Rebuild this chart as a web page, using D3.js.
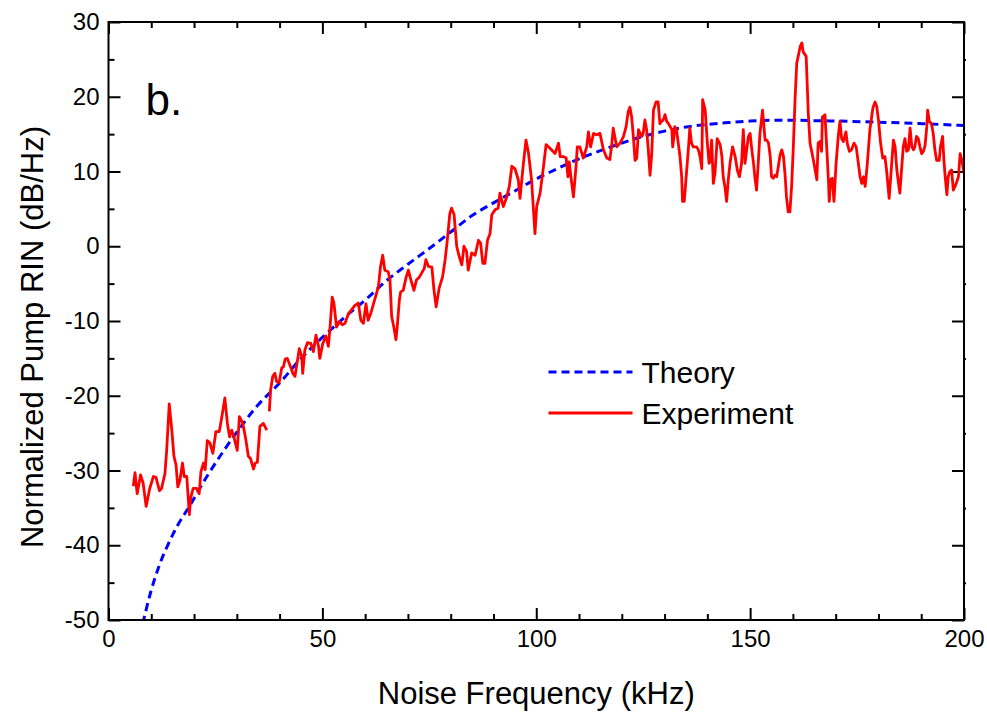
<!DOCTYPE html>
<html lang="en">
<head>
<meta charset="UTF-8"/>
<title>Pump RIN</title>
<script src="https://d3js.org/d3.v7.min.js"></script>
<style>
  body { margin: 0; background: #fff; }
  text { font-family: "Liberation Sans", Arial, sans-serif; fill: #000; }
  .axis path { display: none; }
  .axis line { stroke: #000; stroke-width: 2px; }
  .axis text { font-size: 24px; }
</style>
</head>
<body>
<div id="chart"></div>
<script>
// theory curve
var theoryFreq = [8, 10, 12, 14, 16, 19, 23, 27, 31, 35, 40, 45, 50, 55, 60, 65, 70, 75, 80, 85,
  90, 95, 100, 105, 110, 115, 120, 125, 130, 135, 140, 145, 150, 155, 160, 165, 170, 180, 190, 200]
var theoryRin = [-50.5, -46.0, -42.5, -39.8, -37.5, -34.7, -30.8, -27.3, -24.1, -21.2, -18.3, -15.0, -12.2, -9.6, -7.2, -4.6, -2.4, -0.3, 1.9, 4.1,
  5.8, 7.4, 9.0, 10.4, 11.7, 12.8, 13.8, 14.7, 15.4, 15.95, 16.3, 16.55, 16.75, 16.85, 16.85, 16.8, 16.75, 16.6, 16.4, 16.15]

// experiment, first sweep (5 - 37 kHz)
var sweep1Freq = [5.8, 6.2, 6.7, 7.5, 8.1, 8.8, 9.6, 10.5, 11.1, 11.9,
  12.4, 13.2, 13.6, 14.2, 14.8, 15.3, 15.8, 16.2, 16.7, 17.3,
  17.7, 18.3, 18.9, 19.2, 19.8, 20.6, 21.2, 21.6, 22.2, 22.6,
  23.1, 23.7, 24.4, 25.1, 25.9, 26.5, 27.2, 27.8, 28.3, 28.8,
  29.3, 30.1, 30.6, 31.4, 32.0, 32.7, 33.2, 33.9, 34.3, 34.8,
  35.4, 36.2, 37.0]
var sweep1Rin = [-32.1, -30.3, -33.1, -30.6, -31.7, -34.8, -32.5, -30.8, -30.9, -32.7,
  -32.4, -30.4, -27.3, -21.1, -24.6, -28.1, -29.3, -32.2, -31.3, -29.0,
  -30.8, -30.8, -35.9, -33.7, -32.4, -32.4, -33.1, -30.2, -29.0, -29.9,
  -26.0, -26.3, -27.7, -24.8, -24.8, -22.8, -20.3, -23.7, -25.5, -24.6,
  -25.5, -27.3, -22.8, -23.7, -25.5, -28.1, -28.4, -29.8, -29.0, -28.9,
  -24.1, -23.7, -24.6]

// experiment, second sweep (37 - 200 kHz)
var sweep2Freq = [37.6, 37.9, 38.4, 38.9, 39.3, 39.9, 40.5, 40.9, 41.3, 41.8,
  42.4, 43.1, 43.6, 44.2, 44.6, 45.2, 45.4, 45.9, 46.5, 47.3,
  47.9, 48.5, 49.1, 49.4, 50.1, 50.8, 51.4, 51.8, 52.3, 52.7,
  53.3, 54.0, 54.7, 55.3, 56.1, 56.8, 57.6, 58.4, 59.0, 59.6,
  60.2, 60.7, 61.3, 62.3, 63.1, 63.6, 64.1, 64.6, 65.4, 65.8,
  66.2, 66.7, 67.2, 67.5, 68.0, 68.3, 68.9, 69.6, 70.1, 70.7,
  71.4, 72.0, 72.7, 73.2, 73.8, 74.2, 74.8, 75.6, 76.1, 76.6,
  77.3, 78.1, 78.7, 79.2, 79.8, 80.2, 80.8, 81.4, 82.0, 82.6,
  83.1, 83.7, 84.1, 84.9, 85.7, 86.5, 87.0, 87.5, 88.0, 88.6,
  89.2, 89.6, 90.4, 91.1, 91.5, 92.3, 93.1, 93.7, 94.3, 95.0,
  95.8, 96.2, 97.0, 97.6, 98.2, 98.9, 99.7, 100.1, 100.9, 101.7,
  102.3, 103.2, 104.4, 105.2, 105.6, 106.3, 107.0, 107.4, 107.7, 108.1,
  108.7, 109.3, 109.6, 110.2, 111.0, 111.8, 112.2, 112.7, 113.4, 114.1,
  114.9, 115.7, 116.5, 117.2, 117.6, 118.0, 118.8, 119.6, 120.4, 121.0,
  121.5, 121.9, 122.3, 122.7, 123.1, 123.5, 123.9, 124.3, 124.7, 125.0,
  125.4, 125.8, 126.2, 126.6, 127.0, 127.4, 128.0, 128.5, 128.9, 129.3,
  129.7, 130.1, 130.5, 130.9, 131.3, 131.7, 131.9, 132.2, 132.4, 132.8,
  133.2, 133.6, 134.0, 134.2, 134.6, 135.0, 135.6, 135.9, 136.3, 136.7,
  137.5, 137.9, 138.3, 138.7, 138.9, 139.5, 140.0, 140.4, 140.6, 141.0,
  141.4, 141.8, 142.3, 143.0, 143.4, 143.7, 144.1, 144.5, 144.9, 145.3,
  145.9, 146.5, 147.0, 147.5, 148.0, 148.4, 148.8, 149.2, 149.6, 150.0,
  150.4, 150.8, 151.1, 151.5, 151.9, 152.3, 152.9, 153.5, 153.9, 154.3,
  154.7, 155.0, 155.4, 155.8, 156.2, 156.6, 157.0, 157.4, 157.8, 158.2,
  158.5, 158.9, 159.3, 159.7, 160.1, 160.5, 160.9, 161.7, 162.1, 162.4,
  163.1, 163.6, 164.0, 164.8, 165.6, 165.9, 166.3, 166.7, 166.9, 167.5,
  167.9, 168.3, 168.5, 168.8, 169.2, 169.6, 170.1, 170.6, 171.0, 171.4,
  171.8, 172.4, 172.7, 173.2, 173.7, 174.3, 174.8, 175.3, 175.7, 176.1,
  176.5, 176.9, 177.4, 178.0, 178.7, 179.2, 179.6, 180.0, 180.5, 181.0,
  181.5, 181.9, 182.5, 183.1, 183.5, 183.9, 184.3, 184.7, 185.0, 185.4,
  185.8, 186.2, 186.6, 187.0, 187.4, 187.8, 188.2, 188.5, 188.9, 189.3,
  189.7, 190.1, 190.5, 190.9, 191.3, 191.5, 191.9, 192.4, 192.8, 193.2,
  193.6, 194.2, 194.5, 195.0, 195.3, 195.6, 196.0, 196.3, 196.7, 197.1,
  197.5, 197.9, 198.3, 198.7, 199.1, 199.5, 200.0]
var sweep2Rin = [-22.1, -19.2, -17.4, -17.0, -18.1, -18.2, -16.3, -16.1, -15.1, -15.0,
  -15.9, -17.0, -17.4, -15.2, -13.7, -14.8, -17.0, -13.9, -12.9, -13.0,
  -14.1, -11.9, -13.4, -15.0, -13.0, -12.0, -13.4, -10.8, -6.8, -7.6,
  -10.8, -10.1, -10.5, -10.3, -9.0, -8.5, -7.9, -7.6, -9.9, -10.3,
  -7.7, -9.9, -9.0, -7.0, -5.4, -2.7, -1.2, -3.2, -3.4, -4.5,
  -9.4, -10.8, -12.5, -10.8, -7.2, -6.1, -5.9, -4.1, -3.2, -4.5,
  -5.9, -4.5, -4.1, -3.6, -3.0, -1.8, -2.7, -2.8, -5.9, -8.1,
  -5.6, -4.1, -1.8, 0.8, 4.4, 5.1, 4.2, 0.0, -1.4, -2.5,
  0.0, -0.7, -3.2, -0.9, -1.2, 0.8, 0.4, -2.3, -2.3, 0.8,
  1.7, 4.2, 4.9, 5.1, 7.1, 5.3, 6.6, 8.0, 10.7, 10.4,
  8.9, 6.4, 11.1, 14.2, 12.4, 8.9, 1.7, 5.3, 7.1, 10.7,
  13.6, 13.1, 12.4, 13.8, 12.0, 12.0, 11.8, 9.3, 11.3, 9.3,
  6.6, 10.7, 13.3, 13.3, 11.8, 13.3, 15.3, 13.3, 15.1, 14.9,
  15.1, 12.9, 11.8, 11.6, 13.3, 15.8, 13.3, 13.8, 14.7, 16.0,
  18.0, 18.6, 17.3, 14.7, 11.5, 11.8, 15.6, 15.1, 14.7, 15.1,
  16.9, 15.6, 12.9, 9.5, 12.4, 18.2, 19.3, 19.3, 16.4, 16.7,
  16.9, 17.6, 16.7, 16.4, 16.0, 15.6, 13.3, 14.7, 16.0, 15.6,
  13.8, 12.0, 9.3, 6.0, 6.0, 8.9, 13.3, 15.8, 13.8, 13.3,
  13.3, 12.9, 12.0, 10.4, 19.6, 18.2, 13.8, 11.1, 11.3, 14.2,
  8.4, 9.8, 14.4, 13.6, 12.0, 9.3, 8.0, 6.0, 8.9, 11.1,
  13.3, 12.0, 10.2, 9.3, 11.1, 15.6, 11.1, 12.9, 14.7, 15.1,
  12.9, 11.1, 9.3, 7.5, 11.1, 15.1, 18.2, 14.2, 14.2, 13.8,
  12.0, 9.3, 9.1, 9.5, 9.3, 10.7, 12.2, 12.9, 12.0, 9.3,
  6.6, 4.6, 4.6, 8.0, 13.3, 19.6, 24.5, 26.7, 27.2, 26.0,
  25.4, 17.8, 13.8, 11.5, 8.9, 13.8, 14.0, 12.7, 17.3, 17.6,
  13.3, 8.9, 6.0, 8.9, 9.1, 6.0, 11.1, 14.7, 16.7, 14.4,
  14.0, 15.3, 13.8, 12.7, 12.9, 13.8, 13.3, 11.1, 9.3, 8.4,
  9.3, 8.0, 11.1, 15.6, 18.5, 19.3, 18.7, 16.9, 13.8, 11.8,
  12.0, 10.2, 6.4, 11.1, 14.2, 13.3, 10.2, 8.4, 7.1, 10.2,
  13.3, 14.4, 12.7, 12.9, 15.8, 13.3, 12.9, 13.3, 14.7, 14.4,
  13.3, 12.4, 12.7, 13.5, 16.0, 18.2, 16.7, 16.4, 15.1, 12.9,
  11.5, 11.5, 13.3, 14.7, 11.5, 9.3, 6.9, 9.3, 10.0, 10.2,
  7.5, 8.0, 8.6, 9.3, 12.4, 11.5, 9.8]

var xMajor = [0, 50, 100, 150, 200]
var yMajor = [-50, -40, -30, -20, -10, 0, 10, 20, 30]
var legendNames = ["Theory", "Experiment"]

// size of the drawing
var W = 987, H = 715
var margin = {top: 22, right: 23, bottom: 95, left: 108.5}
var width = W - margin.left - margin.right
var height = H - margin.top - margin.bottom

var svg = d3.select("#chart").append("svg")
    .attr("width", W)
    .attr("height", H)

var g = svg.append("g")
    .attr("transform", "translate(" + margin.left + "," + margin.top + ")")

var x = d3.scaleLinear().domain([0, 200]).range([0, width])
var y = d3.scaleLinear().domain([-50, 30]).range([height, 0])

var xMinor = d3.range(10, 200, 10).filter(function(v) { return v % 50 != 0 })
var yMinor = d3.range(-45, 30, 10)

// plain hyphen for negative labels, like the original
var plain = function(d) { return String(d) }

// ticks point into the plot on all four sides
g.append("g").attr("class", "axis").attr("transform", "translate(0," + height + ")")
  .call(d3.axisBottom(x).tickValues(xMajor).tickFormat(plain).tickSizeInner(-12).tickSizeOuter(0).tickPadding(10))
g.append("g").attr("class", "axis").attr("transform", "translate(0," + height + ")")
  .call(d3.axisBottom(x).tickValues(xMinor).tickSize(-6).tickFormat(""))
g.append("g").attr("class", "axis")
  .call(d3.axisTop(x).tickValues(xMajor).tickSize(-12).tickFormat(""))
g.append("g").attr("class", "axis")
  .call(d3.axisTop(x).tickValues(xMinor).tickSize(-6).tickFormat(""))
g.append("g").attr("class", "axis")
  .call(d3.axisLeft(y).tickValues(yMajor).tickFormat(plain).tickSizeInner(-12).tickSizeOuter(0).tickPadding(9))
g.append("g").attr("class", "axis")
  .call(d3.axisLeft(y).tickValues(yMinor).tickSize(-6).tickFormat(""))
g.append("g").attr("class", "axis").attr("transform", "translate(" + width + ",0)")
  .call(d3.axisRight(y).tickValues(yMajor).tickSize(-12).tickFormat(""))
g.append("g").attr("class", "axis").attr("transform", "translate(" + width + ",0)")
  .call(d3.axisRight(y).tickValues(yMinor).tickSize(2).tickFormat(""))

// clip the curves to the frame
svg.append("defs").append("clipPath").attr("id", "plotclip")
  .append("rect").attr("width", width).attr("height", height)

var plot = g.append("g").attr("clip-path", "url(#plotclip)")

var line = d3.line()
    .x(function(d) { return x(d[0]) })
    .y(function(d) { return y(d[1]) })

plot.append("path")
    .datum(d3.zip(theoryFreq, theoryRin))
    .attr("fill", "none")
    .attr("stroke", "#0000ff")
    .attr("stroke-width", 3)
    .attr("stroke-dasharray", "8,5")
    .attr("d", line.curve(d3.curveMonotoneX))

line.curve(d3.curveLinear)

plot.append("path")
    .datum(d3.zip(sweep1Freq, sweep1Rin))
    .attr("fill", "none")
    .attr("stroke", "#ff0000")
    .attr("stroke-width", 2.8)
    .attr("stroke-linejoin", "round")
    .attr("d", line)

plot.append("path")
    .datum(d3.zip(sweep2Freq, sweep2Rin))
    .attr("fill", "none")
    .attr("stroke", "#ff0000")
    .attr("stroke-width", 2.8)
    .attr("stroke-linejoin", "round")
    .attr("d", line)

// frame
g.append("rect")
    .attr("width", width)
    .attr("height", height)
    .attr("fill", "none")
    .attr("stroke", "#000")
    .attr("stroke-width", 2)

// panel letter
g.append("text").attr("x", 37).attr("y", 93).text("b.").style("font-size", "44px")

// legend
var legend = g.selectAll(".legend")
  .data(legendNames)
  .enter().append("g")
    .attr("class", "legend")
    .attr("transform", function(d, i) { return "translate(440," + (350 + i * 41) + ")" })

legend.append("line")
    .attr("x1", 0).attr("x2", 84)
    .attr("stroke", function(d, i) { return i == 0 ? "#0000ff" : "#ff0000" })
    .attr("stroke-width", function(d, i) { return i == 0 ? 3 : 2.8 })
    .attr("stroke-dasharray", function(d, i) { return i == 0 ? "8,5" : null })

legend.append("text")
    .attr("x", 93)
    .attr("dy", "0.35em")
    .style("font-size", "30px")
    .text(function(d) { return d })

// axis titles
svg.append("text")
    .attr("x", margin.left + width / 2)
    .attr("y", 704)
    .attr("text-anchor", "middle")
    .style("font-size", "31px")
    .text("Noise Frequency (kHz)")

svg.append("text")
    .attr("transform", "translate(43,337) rotate(-90)")
    .attr("text-anchor", "middle")
    .style("font-size", "31px")
    .text("Normalized Pump RIN (dB/Hz)")
</script>
</body>
</html>
